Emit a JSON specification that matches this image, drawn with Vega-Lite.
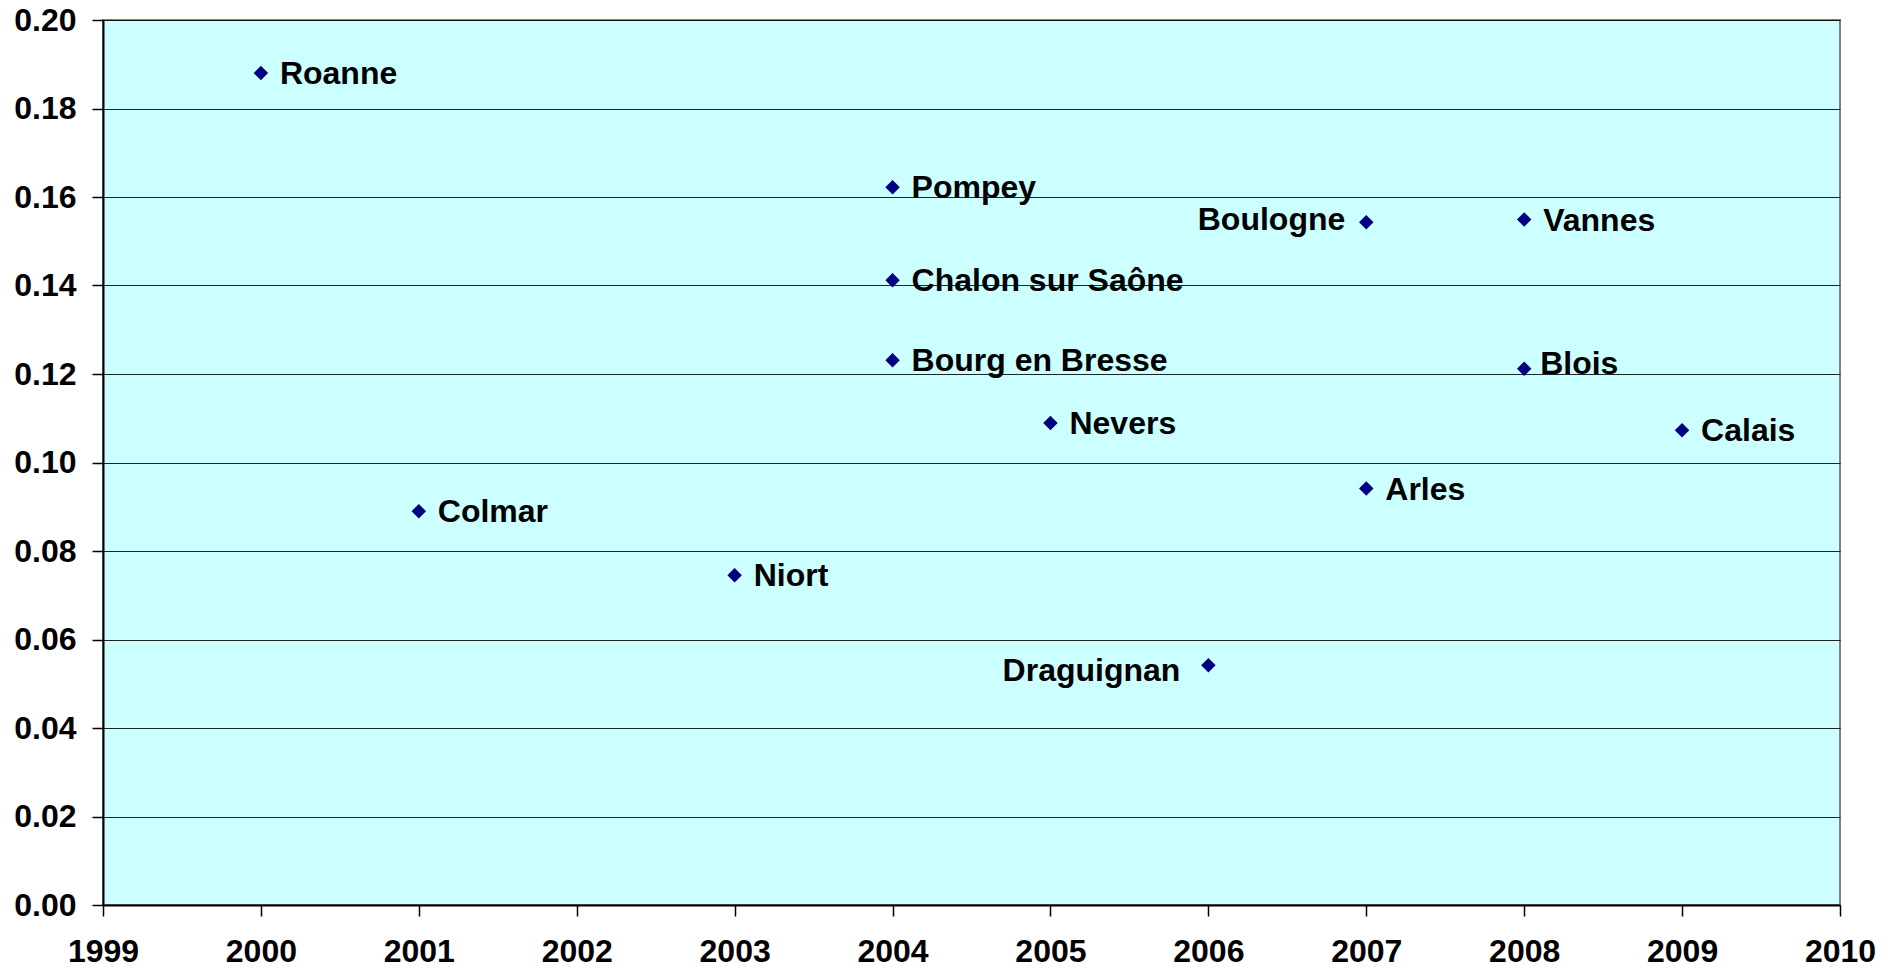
{
  "$schema": "https://vega.github.io/schema/vega-lite/v6.json",
  "autosize": {"type": "none"},
  "width": 1737,
  "height": 885,
  "padding": {"left": 103, "top": 20, "right": 57, "bottom": 66},
  "background": "white",
  "config": {
    "view": {"fill": "#CCFFFF", "stroke": "#808080", "strokeWidth": 2},
    "font": "Liberation Sans"
  },
  "data": {
    "values": [
      {"ville": "Roanne", "annee": 2000, "valeur": 0.188},
      {"ville": "Colmar", "annee": 2001, "valeur": 0.089},
      {"ville": "Niort", "annee": 2003, "valeur": 0.0745},
      {"ville": "Pompey", "annee": 2004, "valeur": 0.1622},
      {"ville": "Chalon sur Saône", "annee": 2004, "valeur": 0.1412},
      {"ville": "Bourg en Bresse", "annee": 2004, "valeur": 0.1231},
      {"ville": "Nevers", "annee": 2005, "valeur": 0.1089},
      {"ville": "Draguignan", "annee": 2006, "valeur": 0.0542},
      {"ville": "Boulogne", "annee": 2007, "valeur": 0.1543},
      {"ville": "Arles", "annee": 2007, "valeur": 0.0941},
      {"ville": "Vannes", "annee": 2008, "valeur": 0.1549},
      {"ville": "Blois", "annee": 2008, "valeur": 0.1212},
      {"ville": "Calais", "annee": 2009, "valeur": 0.1073}
    ]
  },
  "encoding": {
    "x": {
      "field": "annee", "type": "quantitative",
      "scale": {"domain": [1999, 2010], "nice": false, "zero": false},
      "axis": {
        "title": null,
        "values": [1999, 2000, 2001, 2002, 2003, 2004, 2005, 2006, 2007, 2008, 2009, 2010],
        "format": "d",
        "grid": false,
        "domainColor": "black", "domainWidth": 2,
        "tickColor": "black", "tickSize": 11, "tickWidth": 1.5,
        "labelFont": "Liberation Sans", "labelFontWeight": "bold", "labelFontSize": 32,
        "labelColor": "black", "labelPadding": 20, "labelFlush": false, "labelOverlap": false
      }
    },
    "y": {
      "field": "valeur", "type": "quantitative",
      "scale": {"domain": [0, 0.2], "nice": false},
      "axis": {
        "title": null,
        "values": [0, 0.02, 0.04, 0.06, 0.08, 0.1, 0.12, 0.14, 0.16, 0.18, 0.2],
        "format": ".2f",
        "grid": true, "gridColor": "black", "gridWidth": 1, "gridOpacity": 0.85,
        "domainColor": "black", "domainWidth": 2,
        "tickColor": "black", "tickSize": 11, "tickWidth": 1.5,
        "labelFont": "Liberation Sans", "labelFontWeight": "bold", "labelFontSize": 32,
        "labelColor": "black", "labelPadding": 16, "labelFlush": false, "labelOverlap": false
      }
    }
  },
  "layer": [
    {
      "mark": {"type": "point", "shape": "diamond", "filled": true, "size": 210, "color": "#000080", "opacity": 1}
    },
    {
      "transform": [{"filter": "datum.ville !== 'Boulogne' && datum.ville !== 'Draguignan' && datum.ville !== 'Blois'"}],
      "mark": {"type": "text", "align": "left", "baseline": "middle", "dx": 19, "dy": 1, "font": "Liberation Sans", "fontWeight": "bold", "fontSize": 32, "color": "black"},
      "encoding": {"text": {"field": "ville"}}
    },
    {
      "transform": [{"filter": "datum.ville === 'Blois'"}],
      "mark": {"type": "text", "align": "left", "baseline": "middle", "dx": 16, "dy": -5, "font": "Liberation Sans", "fontWeight": "bold", "fontSize": 32, "color": "black"},
      "encoding": {"text": {"field": "ville"}}
    },
    {
      "transform": [{"filter": "datum.ville === 'Boulogne'"}],
      "mark": {"type": "text", "align": "right", "baseline": "middle", "dx": -21, "dy": -2, "font": "Liberation Sans", "fontWeight": "bold", "fontSize": 32, "color": "black"},
      "encoding": {"text": {"field": "ville"}}
    },
    {
      "transform": [{"filter": "datum.ville === 'Draguignan'"}],
      "mark": {"type": "text", "align": "right", "baseline": "middle", "dx": -28, "dy": 6, "font": "Liberation Sans", "fontWeight": "bold", "fontSize": 32, "color": "black"},
      "encoding": {"text": {"field": "ville"}}
    }
  ]
}
